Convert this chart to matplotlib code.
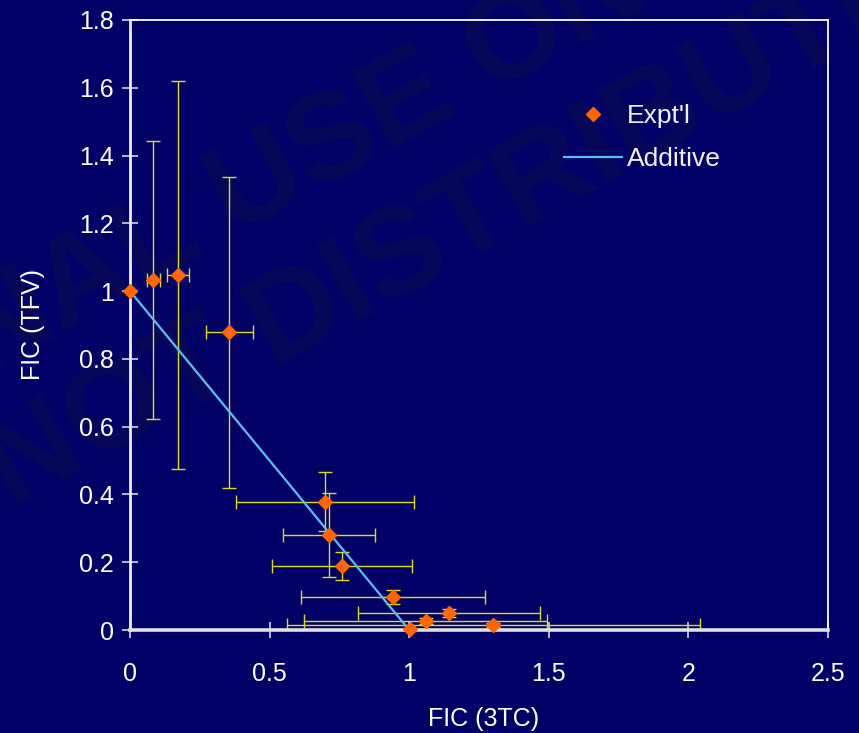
import matplotlib
matplotlib.use('Agg')
import matplotlib.pyplot as plt
from matplotlib.ticker import FormatStrFormatter

plt.rcParams['font.family'] = ['Liberation Sans', 'DejaVu Sans']

# experimental FIC pairs with error bars
fic_3tc = [0.0, 0.084, 0.172, 0.356, 0.698, 0.714, 0.759, 0.942, 1.142, 1.059, 1.002, 1.301]
fic_3tc_err = [0.0, 0.022, 0.040, 0.085, 0.320, 0.165, 0.250, 0.330, 0.326, 0.436, 0.0, 0.740]
fic_tfv = [1.0, 1.033, 1.047, 0.878, 0.378, 0.280, 0.189, 0.097, 0.051, 0.027, 0.003, 0.015]
fic_tfv_err = [0.0, 0.411, 0.573, 0.460, 0.087, 0.124, 0.042, 0.021, 0.012, 0.008, 0.0, 0.005]

# line of additivity
additive_x = [0, 1]
additive_y = [1, 0]

x_ticks = [0, 0.5, 1, 1.5, 2, 2.5]
y_ticks = [0, 0.2, 0.4, 0.6, 0.8, 1.0, 1.2, 1.4, 1.6, 1.8]

bg = '#000066'
W, H = 859, 733

fig = plt.figure(figsize=(W / 100, H / 100), dpi=100, facecolor=bg)
ax = fig.add_axes([130 / W, 1 - 630 / H, 698 / W, 610 / H])
ax.set_facecolor('none')

# faint watermark behind the plot
wm = dict(color='#08085a', fontsize=90, fontweight='bold', rotation=29,
          rotation_mode='anchor', va='baseline', zorder=-1)
fig.text(235 / W, 1 - 236 / H, 'EDUCATIONAL ', ha='right', **wm)
fig.text(235 / W, 1 - 236 / H, 'USE ONLY', ha='left', **wm)
fig.text(272 / W, 1 - 364 / H, 'DO NOT ', ha='right', **wm)
fig.text(272 / W, 1 - 364 / H, 'DISTRIBUTE', ha='left', **wm)

ax.errorbar(fic_3tc, fic_tfv, xerr=fic_3tc_err, yerr=fic_tfv_err, fmt='none',
            ecolor='#dcdc10', elinewidth=1, capsize=5.3, capthick=1, zorder=2)
line, = ax.plot(additive_x, additive_y, color='#5ac0f0', lw=1.6, zorder=3)
pts, = ax.plot(fic_3tc, fic_tfv, 'D', color='#ff6600', ms=7.5, ls='none',
               zorder=4, clip_on=False)

ax.set_xlim(0, 2.5)
ax.set_ylim(0, 1.8)
ax.set_xticks(x_ticks)
ax.set_yticks(y_ticks)
ax.xaxis.set_major_formatter(FormatStrFormatter('%g'))
ax.yaxis.set_major_formatter(FormatStrFormatter('%g'))

ax.tick_params(direction='inout', length=11.5, width=1.1, color='#e6e6e6',
               labelcolor='white', labelsize=18)
ax.tick_params(axis='x', pad=17)
ax.tick_params(axis='y', pad=6)

for s in ['top', 'right']:
    ax.spines[s].set_color('white')
    ax.spines[s].set_linewidth(1.3)
ax.spines['left'].set_color('#eeeeee')
ax.spines['left'].set_linewidth(2)
ax.spines['bottom'].set_color('#e0e0e0')
ax.spines['bottom'].set_linewidth(2.6)

ax.set_xlabel('FIC (3TC)', color='white', fontsize=18)
ax.set_ylabel('FIC (TFV)', color='white', fontsize=18)
ax.xaxis.set_label_coords((484 - 130) / 698, -77 / 610)
ax.yaxis.set_label_coords(-85 / 698, 0.5)

leg = ax.legend([pts, line], ["Expt'l", 'Additive'], loc='upper left',
                bbox_to_anchor=(564 / W, 1 - 104 / H), bbox_transform=fig.transFigure,
                frameon=False, borderpad=0, borderaxespad=0, handlelength=2.2,
                handletextpad=0.2, labelspacing=0.72, fontsize=19)
for t in leg.get_texts():
    t.set_color('#f0f0f0')

fig.savefig('out.png', dpi=100, facecolor=bg)
